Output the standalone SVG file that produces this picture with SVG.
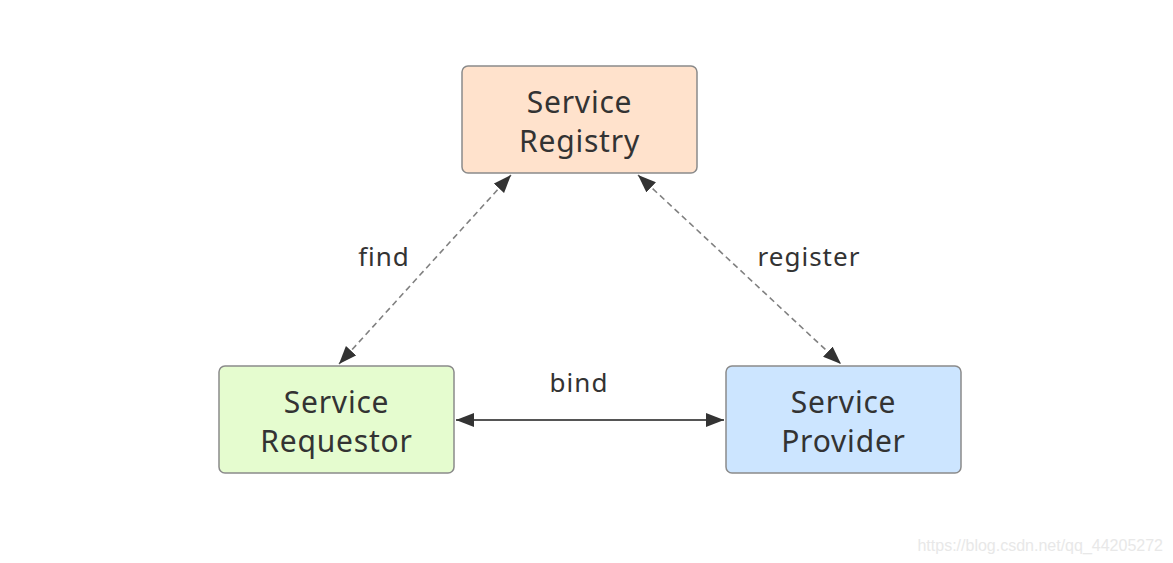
<svg xmlns="http://www.w3.org/2000/svg" width="1173" height="563" viewBox="0 0 1173 563">
<style>
.box{stroke:#8a8a8a;stroke-width:1.5}
.nt{font-family:"Comic Sans MS","Noto Sans","DejaVu Sans",sans-serif;font-size:30px;letter-spacing:0.8px;fill:#333;text-anchor:middle}
.lb{font-family:"Comic Sans MS","Noto Sans","DejaVu Sans",sans-serif;font-size:26px;letter-spacing:1px;fill:#333;text-anchor:middle}
.dash{stroke:#808080;stroke-width:1.6;stroke-dasharray:6 4;fill:none}
.solid{stroke:#555;stroke-width:2;fill:none}
</style>
<defs>
<marker id="ah" viewBox="0 0 18 14" refX="18" refY="7" markerWidth="18" markerHeight="14" markerUnits="userSpaceOnUse" orient="auto-start-reverse">
<path d="M0,0 L18,7 L0,14 z" fill="#333"/>
</marker>
</defs>
<rect width="1173" height="563" fill="#fff"/>
<g id="connectors">
<line class="dash" x1="511" y1="175" x2="339" y2="364" marker-start="url(#ah)" marker-end="url(#ah)"/>
<line class="dash" x1="638" y1="175" x2="841" y2="364" marker-start="url(#ah)" marker-end="url(#ah)"/>
<line class="solid" x1="456" y1="420" x2="724" y2="420" marker-start="url(#ah)" marker-end="url(#ah)"/>
<text class="lb" x="384" y="266">find</text>
<text class="lb" x="809" y="266">register</text>
<text class="lb" x="579" y="392">bind</text>
</g>
<g id="registry">
<rect class="box" x="462" y="66" width="235" height="107" rx="6" fill="#ffe2cc"/>
<text class="nt" x="579.5" y="113">Service</text>
<text class="nt" x="579.5" y="152">Registry</text>
</g>
<g id="requestor">
<rect class="box" x="219" y="366" width="235" height="107" rx="6" fill="#e5fccf"/>
<text class="nt" x="336.5" y="413">Service</text>
<text class="nt" x="336.5" y="452">Requestor</text>
</g>
<g id="provider">
<rect class="box" x="726" y="366" width="235" height="107" rx="6" fill="#cce5ff"/>
<text class="nt" x="843.5" y="413">Service</text>
<text class="nt" x="843.5" y="452">Provider</text>
</g>
<text x="1163" y="551" font-family="Liberation Sans, Arial, sans-serif" font-size="16" fill="#e8e8e8" text-anchor="end">https://blog.csdn.net/qq_44205272</text>
</svg>
